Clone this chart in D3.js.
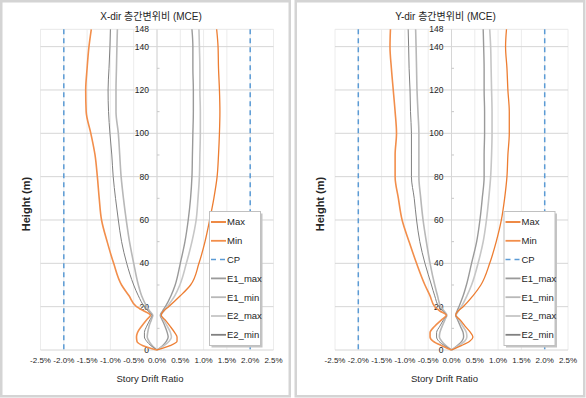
<!DOCTYPE html>
<html>
<head>
<meta charset="utf-8">
<title></title>
<script src="https://cdn.jsdelivr.net/npm/d3@7"></script>
<style>
  body { margin: 0; background: #fff; }
  svg text { font-family: "Liberation Sans", Arial, "Noto Sans CJK KR", sans-serif; fill: #262626; }
</style>
</head>
<body>
<div id="chart"></div>
<script>
// story heights (m)
var heights = [0, 2, 4, 6, 8, 11, 14, 16, 18, 20, 25, 30, 40, 50, 60, 70, 80, 90, 100, 110, 120, 130, 140, 148];

// X-dir drift ratio (%)
var xMax   = [0, 0.28, 0.43, 0.43, 0.38, 0.28, 0.17, 0.09, 0.14, 0.25, 0.50, 0.72, 0.90, 1.03, 1.13, 1.22, 1.29, 1.32, 1.34, 1.35, 1.34, 1.32, 1.31, 1.28];
var xMin   = [0, -0.30, -0.43, -0.44, -0.42, -0.33, -0.22, -0.14, -0.28, -0.44, -0.60, -0.76, -0.93, -1.07, -1.19, -1.24, -1.28, -1.33, -1.42, -1.52, -1.53, -1.50, -1.46, -1.41];
var xE1max = [0, 0.12, 0.20, 0.24, 0.22, 0.17, 0.11, 0.07, 0.12, 0.18, 0.30, 0.39, 0.50, 0.60, 0.67, 0.72, 0.75, 0.76, 0.77, 0.78, 0.78, 0.77, 0.77, 0.75];
var xE1min = [0, -0.10, -0.17, -0.21, -0.20, -0.17, -0.12, -0.09, -0.16, -0.22, -0.33, -0.40, -0.50, -0.59, -0.66, -0.72, -0.77, -0.80, -0.83, -0.88, -0.88, -0.87, -0.86, -0.85];
var xE2max = [0, 0.15, 0.26, 0.31, 0.29, 0.22, 0.14, 0.09, 0.15, 0.22, 0.38, 0.49, 0.63, 0.75, 0.84, 0.88, 0.91, 0.92, 0.93, 0.93, 0.92, 0.92, 0.91, 0.90];
var xE2min = [0, -0.13, -0.22, -0.27, -0.27, -0.22, -0.15, -0.11, -0.19, -0.27, -0.40, -0.50, -0.65, -0.76, -0.83, -0.89, -0.94, -0.97, -1.01, -1.04, -1.05, -1.03, -1.01, -1.00];

// Y-dir drift ratio (%)
var yMax   = [0, 0.21, 0.39, 0.46, 0.41, 0.29, 0.18, 0.09, 0.14, 0.25, 0.46, 0.63, 0.82, 0.96, 1.07, 1.14, 1.19, 1.21, 1.24, 1.24, 1.21, 1.19, 1.16, 1.18];
var yMin   = [0, -0.21, -0.39, -0.46, -0.46, -0.36, -0.21, -0.11, -0.25, -0.36, -0.46, -0.57, -0.75, -0.91, -1.06, -1.14, -1.21, -1.21, -1.18, -1.21, -1.25, -1.29, -1.32, -1.31];
var yE1max = [0, 0.12, 0.22, 0.26, 0.25, 0.19, 0.13, 0.09, 0.12, 0.16, 0.25, 0.32, 0.43, 0.54, 0.61, 0.66, 0.70, 0.70, 0.71, 0.71, 0.70, 0.70, 0.69, 0.68];
var yE1min = [0, -0.12, -0.21, -0.26, -0.25, -0.20, -0.14, -0.10, -0.16, -0.23, -0.30, -0.36, -0.46, -0.54, -0.61, -0.66, -0.70, -0.70, -0.70, -0.72, -0.74, -0.75, -0.76, -0.77];
var yE2max = [0, 0.15, 0.28, 0.33, 0.32, 0.24, 0.16, 0.10, 0.15, 0.21, 0.33, 0.43, 0.57, 0.68, 0.75, 0.80, 0.84, 0.86, 0.87, 0.87, 0.86, 0.85, 0.84, 0.82];
var yE2min = [0, -0.15, -0.27, -0.32, -0.32, -0.25, -0.17, -0.11, -0.19, -0.27, -0.36, -0.43, -0.57, -0.68, -0.75, -0.80, -0.86, -0.86, -0.86, -0.88, -0.89, -0.91, -0.92, -0.93];

var cpLimit = 2.0;
var xTicks = [-2.5, -2.0, -1.5, -1.0, -0.5, 0, 0.5, 1.0, 1.5, 2.0, 2.5];
var yTicks = [0, 20, 40, 60, 80, 100, 120, 140, 148];
var yMinor = [10, 30, 50, 70, 90, 110, 130];
var legendNames = ["Max", "Min", "CP", "E1_max", "E1_min", "E2_max", "E2_min"];

var styles = {
  Max:    { color: "#ed7d31", width: 1.3 },
  Min:    { color: "#f28e4b", width: 1.6 },
  CP:     { color: "#5b9bd5", width: 1.5, dash: "5,4" },
  E1_max: { color: "#9a9a9a", width: 1.4 },
  E1_min: { color: "#b8b8b8", width: 1.6 },
  E2_max: { color: "#c6c6c6", width: 1.6 },
  E2_min: { color: "#808080", width: 1.0 }
};

var W = 586, H = 398;
var svg = d3.select('#chart').append('svg').attr('width', W).attr('height', H);

function drawPanel(offset, title, series) {
  var g = svg.append('g').attr('transform', 'translate(' + offset + ',0)');

  // panel border
  g.append('rect').attr('x', 1.25).attr('y', 1.25).attr('width', 288.5).attr('height', 395)
    .attr('fill', '#fff').attr('stroke', '#d4d4d4').attr('stroke-width', 2.5);

  var x = d3.scaleLinear().domain([-2.5, 2.5]).range([40.5, 273.5]);
  var y = d3.scaleLinear().domain([0, 148]).range([350, 29.3]);

  // vertical grid (faint)
  g.selectAll('.vg').data(xTicks).enter().append('line')
    .attr('x1', function(d) { return x(d); }).attr('x2', function(d) { return x(d); })
    .attr('y1', y(148)).attr('y2', y(0))
    .attr('stroke', '#ececec').attr('stroke-width', 1);

  // horizontal grid
  g.selectAll('.hg').data(yTicks).enter().append('line')
    .attr('x1', x(-2.5)).attr('x2', x(2.5))
    .attr('y1', function(d) { return y(d); }).attr('y2', function(d) { return y(d); })
    .attr('stroke', function(d) { return d === 148 ? '#e8e8e8' : '#d6d6d6'; }).attr('stroke-width', 1);

  // y axis line at 0%
  g.append('line').attr('x1', x(0)).attr('x2', x(0)).attr('y1', y(148)).attr('y2', y(0))
    .attr('stroke', '#d6d6d6');
  g.selectAll('.mt').data(yMinor).enter().append('line')
    .attr('x1', x(0)).attr('x2', x(0) + 2.5)
    .attr('y1', function(d) { return y(d); }).attr('y2', function(d) { return y(d); })
    .attr('stroke', '#c8c8c8');

  // y tick labels
  g.selectAll('.yl').data(yTicks).enter().append('text')
    .attr('x', x(0) - 8).attr('y', function(d) { return y(d); })
    .attr('dy', '0.35em').attr('text-anchor', 'end')
    .style('font-size', '8.5px')
    .text(function(d) { return d; });

  // x tick labels
  g.selectAll('.xl').data(xTicks).enter().append('text')
    .attr('x', function(d) { return x(d); }).attr('y', 363)
    .attr('text-anchor', 'middle')
    .style('font-size', '8px')
    .text(function(d) { return d.toFixed(1) + '%'; });

  // CP lines
  [-cpLimit, cpLimit].forEach(function(v) {
    g.append('line').attr('x1', x(v)).attr('x2', x(v)).attr('y1', y(148)).attr('y2', y(0))
      .attr('stroke', styles.CP.color).attr('stroke-width', styles.CP.width)
      .attr('stroke-dasharray', styles.CP.dash);
  });

  var line = d3.line()
    .x(function(d) { return x(d[0]); })
    .y(function(d) { return y(d[1]); })
    .curve(d3.curveMonotoneY);

  series.forEach(function(s) {
    var st = styles[s.name];
    g.append('path')
      .datum(s.values.map(function(v, i) { return [v, heights[i]]; }))
      .attr('d', line)
      .attr('fill', 'none')
      .attr('stroke', st.color)
      .attr('stroke-width', st.width)
      .attr('stroke-linejoin', 'round');
  });

  // titles
  g.append('text').attr('x', 151).attr('y', 20).attr('text-anchor', 'middle')
    .style('font-size', '10px').text(title);
  g.append('text').attr('x', 150).attr('y', 382).attr('text-anchor', 'middle')
    .style('font-size', '9.5px').text('Story Drift Ratio');
  g.append('text').attr('transform', 'translate(29.5,204) rotate(-90)')
    .attr('text-anchor', 'middle')
    .style('font-size', '11px').style('font-weight', 'bold').text('Height (m)');

  // legend
  var lg = g.append('g');
  lg.append('rect').attr('x', 211.5).attr('y', 213.5).attr('width', 51).attr('height', 134)
    .attr('fill', '#c4c4c4');
  lg.append('rect').attr('x', 209.5).attr('y', 211.5).attr('width', 51).attr('height', 134)
    .attr('fill', '#fff').attr('stroke', '#c0c0c0');
  legendNames.forEach(function(n, i) {
    var st = styles[n];
    var cy = 222 + i * 18.8;
    lg.append('line').attr('x1', 211).attr('x2', 226).attr('y1', cy).attr('y2', cy)
      .attr('stroke', st.color).attr('stroke-width', n === 'CP' ? 1.5 : 1.8)
      .attr('stroke-dasharray', st.dash || null);
    lg.append('text').attr('x', 227).attr('y', cy).attr('dy', '0.35em')
      .style('font-size', '9.5px').text(n);
  });
}

drawPanel(0, 'X-dir 층간변위비 (MCE)', [
  { name: 'E1_max', values: xE1max },
  { name: 'E1_min', values: xE1min },
  { name: 'E2_max', values: xE2max },
  { name: 'E2_min', values: xE2min },
  { name: 'Max', values: xMax },
  { name: 'Min', values: xMin }
]);

drawPanel(294.5, 'Y-dir 층간변위비 (MCE)', [
  { name: 'E1_max', values: yE1max },
  { name: 'E1_min', values: yE1min },
  { name: 'E2_max', values: yE2max },
  { name: 'E2_min', values: yE2min },
  { name: 'Max', values: yMax },
  { name: 'Min', values: yMin }
]);
</script>
</body>
</html>
